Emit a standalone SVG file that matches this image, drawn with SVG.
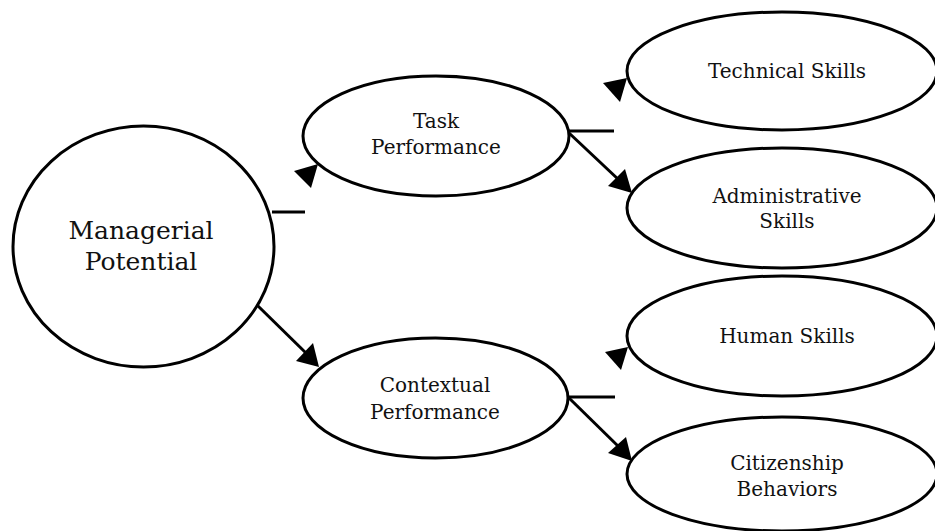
<svg xmlns="http://www.w3.org/2000/svg" width="935" height="531" viewBox="0 0 935 531">
  <style>
    .node { fill: #ffffff; stroke: #000000; stroke-width: 3; }
    .lbl { font-family: "DejaVu Serif", "Liberation Serif", serif; font-size: 20px; fill: #111111; text-anchor: middle; }
    .big { font-size: 25px; }
    .wire { stroke: #000000; stroke-width: 3; fill: none; }
    .head { fill: #000000; stroke: none; }
  </style>
  <rect width="935" height="531" fill="#ffffff"/>

  <g id="connectors">
    <!-- Managerial Potential to Task Performance -->
    <line class="wire" x1="272" y1="212" x2="305" y2="212"/>
    <polygon class="head" points="294,171 318,164 311,188"/>
    <!-- Managerial Potential to Contextual Performance -->
    <line class="wire" x1="257" y1="305" x2="308" y2="355"/>
    <polygon class="head" points="296,361 313,343 319,367"/>
    <!-- Task Performance to Technical Skills -->
    <line class="wire" x1="568" y1="131" x2="614" y2="131"/>
    <polygon class="head" points="603,83 627,78 620,102"/>
    <!-- Task Performance to Administrative Skills -->
    <line class="wire" x1="568" y1="132" x2="620" y2="181"/>
    <polygon class="head" points="608,186 625,169 632,193"/>
    <!-- Contextual Performance to Human Skills -->
    <line class="wire" x1="568" y1="397" x2="615" y2="397"/>
    <polygon class="head" points="605,352 628,347 621,370"/>
    <!-- Contextual Performance to Citizenship Behaviors -->
    <line class="wire" x1="568" y1="397" x2="620" y2="448"/>
    <polygon class="head" points="608,453 626,437 632,461"/>
  </g>

  <g id="managerial-potential">
    <ellipse class="node" cx="143.5" cy="246.5" rx="130.5" ry="120.5"/>
    <text class="lbl big" x="141" y="239">Managerial</text>
    <text class="lbl big" x="141" y="270">Potential</text>
  </g>

  <g id="task-performance">
    <ellipse class="node" cx="436" cy="136" rx="133" ry="60"/>
    <text class="lbl" x="436" y="128">Task</text>
    <text class="lbl" x="436" y="154">Performance</text>
  </g>

  <g id="contextual-performance">
    <ellipse class="node" cx="435.5" cy="398" rx="132.5" ry="60"/>
    <text class="lbl" x="435" y="392">Contextual</text>
    <text class="lbl" x="435" y="419">Performance</text>
  </g>

  <g id="technical-skills">
    <ellipse class="node" cx="782" cy="71" rx="155" ry="59"/>
    <text class="lbl" x="787" y="78">Technical Skills</text>
  </g>

  <g id="administrative-skills">
    <ellipse class="node" cx="782" cy="208" rx="155" ry="60"/>
    <text class="lbl" x="787" y="203">Administrative</text>
    <text class="lbl" x="787" y="228">Skills</text>
  </g>

  <g id="human-skills">
    <ellipse class="node" cx="782" cy="336" rx="155" ry="60"/>
    <text class="lbl" x="787" y="343">Human Skills</text>
  </g>

  <g id="citizenship-behaviors">
    <ellipse class="node" cx="782" cy="474" rx="155" ry="57"/>
    <text class="lbl" x="787" y="470">Citizenship</text>
    <text class="lbl" x="787" y="496">Behaviors</text>
  </g>
</svg>
